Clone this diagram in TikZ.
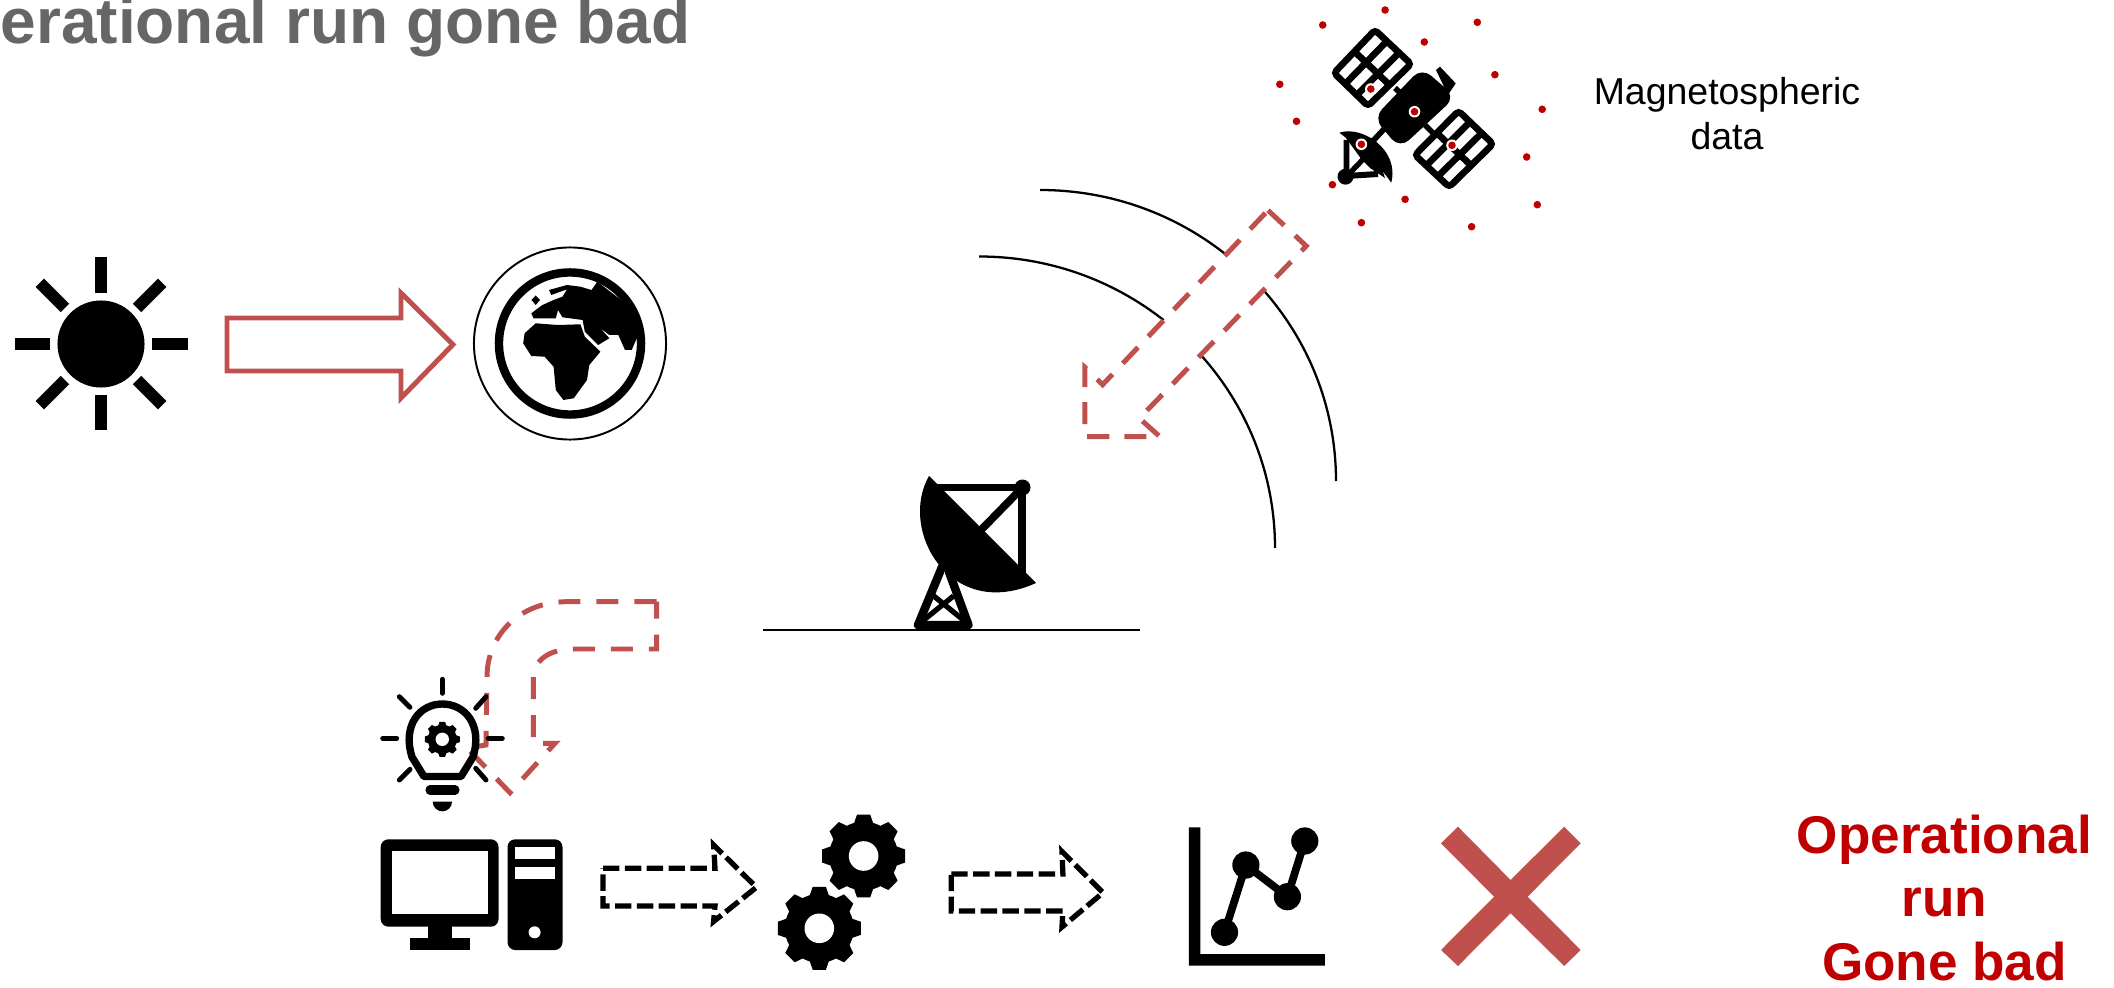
\documentclass[tikz,border=0pt]{standalone}
\usepackage{xcolor}
\usepackage{fontspec}
\setmainfont{Liberation Sans}
\usetikzlibrary{calc}
\definecolor{dullred}{HTML}{C0504D}
\definecolor{darkred}{HTML}{C00000}
\definecolor{titlegray}{HTML}{666666}
\tikzset{
    redlbl/.style={inner sep=0pt, align=center, text=darkred, font=\bfseries\fontsize{15.1}{18.1}\selectfont},
    blocksolid/.style={draw=dullred, line width=1.4pt},
    reddash/.style={draw=dullred, line width=1.42pt, dash pattern=on 6.26pt off 4.27pt},
    blackdash/.style={draw=black, line width=1.5pt, dash pattern=on 4.67pt off 1.54pt},
    wave/.style={draw=black, line width=0.65pt},
    ray/.style={draw=black, line width=3.4pt},
    smallray/.style={draw=black, line width=1.4pt, line cap=round},
    panel/.style={draw=black, line width=1.9pt},
    iconline/.style={draw=black, line width=2.2pt},
    ringnode/.style={circle, draw=black, inner sep=0pt, outer sep=0pt},
}
\newcommand{\gearicon}[4]{% x, y, radius, hole
    \fill[black] (#1,#2) circle[radius=0.82*#3];
    \foreach \a in {0,45,...,315}
        \fill[black] ({#1+#3*0.8*cos(\a-17)},{#2+#3*0.8*sin(\a-17)})
            -- ({#1+#3*cos(\a-9)},{#2+#3*sin(\a-9)}) -- ({#1+#3*cos(\a+9)},{#2+#3*sin(\a+9)})
            -- ({#1+#3*0.8*cos(\a+17)},{#2+#3*0.8*sin(\a+17)}) -- cycle;
    \fill[white] (#1,#2) circle[radius=#4];
}
\newcommand{\solarpanel}[4]{% corners of the panel
    \draw[panel, rounded corners=1pt] (#1) -- (#2) -- (#3) -- (#4) -- cycle;
    \draw[panel] ($(#1)!0.5!(#4)$) -- ($(#2)!0.5!(#3)$);
    \draw[panel] ($(#1)!0.33!(#2)$) -- ($(#4)!0.33!(#3)$);
    \draw[panel] ($(#1)!0.67!(#2)$) -- ($(#4)!0.67!(#3)$);
}
\begin{document}
\begin{tikzpicture}[x=0.01cm, y=-0.01cm]
    \useasboundingbox (0,0) rectangle (2114,988);
    \clip (0,0) rectangle (2114,988);

    % title, cut by the left edge
    \node[anchor=base west, inner sep=0pt, text=titlegray, font=\bfseries\fontsize{18.2}{20}\selectfont] (title) at (0,44) {erational run gone bad};

    % sun
    \node[circle, fill=black, minimum size=0.87cm, inner sep=0pt] (sun) at (101,344) {};
    \foreach \a in {0,45,...,315}
        \draw[ray] ({101+51*cos(\a)},{344+51*sin(\a)}) -- ({101+86.5*cos(\a)},{344+86.5*sin(\a)});

    % solar wind
    \draw[blocksolid] (227,318) -- (401,318) -- (401,293) -- (453,344.5) -- (401,398) -- (401,371) -- (227,371) -- cycle;

    % earth
    \node[ringnode, line width=0.55pt, minimum size=1.92cm] (earth) at (570,343.5) {};
    \node[ringnode, line width=2.4pt, minimum size=1.42cm] (globe) at (570,343.5) {};
    \fill[black] (524.6,333.3) -- (535.7,323.3) -- (558,325) -- (580.4,324.3) -- (584.8,336.7) -- (600.4,351.7) -- (589.3,365) -- (587,380) -- (573.7,398.3) -- (563.4,400) -- (555.8,390) -- (553.6,366.7) -- (544.6,356.7) -- (531.3,356) -- (523.2,343.3) -- cycle;
    \fill[black] (549,290) -- (567,285) -- (580.4,286.7) -- (591.5,290) -- (597.3,281.7) -- (625,303) -- (640.6,330) -- (636,340) -- (631.7,350) -- (625,350) -- (618.3,335) -- (609.4,335) -- (600.4,328.3) -- (609.4,338.3) -- (598.2,345) -- (584.8,331.7) -- (582.6,320) -- (562.5,317.3) -- (558,310) -- (555.8,318.3) -- (533.5,318.3) -- (531.3,313.3) -- (542.4,305) -- (553.6,300) -- (562.5,296.7) -- (567,289.3) -- (551.3,295) -- cycle;
    \fill[black] (535.7,295.5) -- (540,300) -- (535.7,305) -- (531.5,300) -- cycle;

    % radio waves, the arrow below hides a part of them
    \draw[wave] (1040,190) .. controls (1203.5,190) and (1336,320.3) .. (1336,481);
    \draw[wave] (979,256.5) .. controls (1142.5,256.5) and (1275,387) .. (1275,548);
    \draw[reddash, fill=white] (1268,210.3) -- (1306.2,246) -- (1139.4,418.3) -- (1159.9,436.7) -- (1084.8,436.7) -- (1084.8,367.3) -- (1102.6,384.7) -- cycle;

    % ground station
    \draw[black, line width=0.55pt] (762.5,630) coordinate (gndl) -- (1140,630) coordinate (gndr);
    \fill[black] (929,476) .. controls (898,530) and (950,622) .. (1036,583) -- cycle;
    \draw[iconline] (934,487.5) -- (1022,487.5) -- (1022,573);
    \draw[iconline] (1022,488) -- (981,530);
    \fill[black] (1022.5,487.5) circle[radius=8];
    \draw[iconline, line width=2.4pt, line cap=round] (918,625) -- (942,567) (968.5,625) -- (949,572) (918,625) -- (968.5,625);
    \draw[black, line width=1.5pt] (920,623) -- (953.5,596) (967,623) -- (933.8,596);

    % satellite
    \solarpanel{1375,30}{1411,64}{1368,106}{1334,73}
    \solarpanel{1458.6,111}{1493,144}{1449.2,187}{1415,155}
    \draw[line width=1.6pt] (1395,88) -- (1408,100) (1425,125) -- (1436,136) (1385,128) -- (1372,142);
    \fill[black, draw=black, line width=1pt, rounded corners=3pt] (1421.8,70) -- (1453,97) -- (1400,146) -- (1376,118) -- cycle;
    \fill[black] (1436,70) -- (1440,66.7) -- (1455.7,83.3) -- (1448,95) -- cycle;
    \fill[black] (1339.4,132.7) .. controls (1362,125) and (1400,150) .. (1391.2,182.7) .. controls (1380,165) and (1355,145) .. (1339.4,132.7) -- cycle;
    \draw[line width=1.7pt] (1346.5,140) -- (1346.5,176) -- (1378,174);
    \draw[line width=1.5pt] (1347,176) -- (1372,150);
    \fill[black] (1345.5,176.7) circle[radius=8];
    \fill[black] (1346,138) -- (1372,138) -- (1385,178) -- (1370,168) -- (1362,160) -- cycle;
    % particles
    \foreach \dx/\dy in {1370.8/89, 1414.5/111.7, 1361.4/144.3, 1452/145.3}
        \fill[white] (\dx,\dy) circle[radius=5.8];
    \foreach \dx/\dy in {1385.1/10, 1322.7/25, 1477.3/22.3, 1424.3/42, 1279.8/84.3, 1494.9/74.7, 1370.8/89, 1414.5/111.7, 1542.2/109.3, 1296.5/121.3, 1361.4/144.3, 1452/145.3, 1526.7/157, 1332.4/184.7, 1405.1/199.3, 1537.3/204.7, 1361.4/222.7, 1471.6/226.7}
        \fill[darkred] (\dx,\dy) circle[radius=3.8];
    \node[inner sep=0pt, align=center, font=\fontsize{10.65}{12.8}\selectfont] (magdata) at (1727,114) {Magnetospheric\\data};

    % idea
    \draw[reddash, dash pattern=on 6.26pt off 4.55pt] (656.5,601.7) -- (566.7,601.7) .. controls (520,601.7) and (487,635) .. (487,677) -- (486,745) -- (467,748) -- (510,792.7) -- (555,743.3) -- (533.3,743.3) -- (533.3,678) .. controls (533.3,660) and (550,649) .. (573.3,649) -- (656.5,649) -- cycle;
    \draw[black, line width=2.1pt, line join=round] (424,776.5) -- (412,757) .. controls (402,725) and (420,704) .. (442.3,704) .. controls (465,704) and (483,725) .. (473,757) -- (461,776.5) -- cycle;
    \gearicon{442.3}{739.3}{17.7}{6.7}
    \draw[black, line width=2.6pt, line cap=round] (430,790) -- (455,790);
    \fill[black] (432.7,801.7) -- (452,801.7) arc[start angle=0, end angle=180, radius=9.65];
    \foreach \xa/\ya/\xb/\yb in {442.3/679.3/442.3/693.3, 382.7/738.3/396.7/738.3, 488.3/738.3/502.3/738.3, 399.3/696.7/410/707.3, 486/696.7/475.7/708.3, 399.3/780/410/769.3, 486/780/475.7/768.3}
        \draw[smallray] (\xa,\ya) -- (\xb,\yb);

    % computer
    \fill[black, rounded corners=2.2pt] (380.7,839.3) rectangle (498.6,926.7);
    \fill[white] (392,851) rectangle (487.5,914.3);
    \fill[black] (427.9,926) rectangle (451.8,938.3);
    \fill[black] (410,938.3) rectangle (469.6,950);
    \fill[black, rounded corners=2.2pt] (507.5,839.3) rectangle (562.5,950);
    \fill[white] (514.6,847.3) rectangle (554.6,859);
    \fill[white] (514.6,866.7) rectangle (554.6,879);
    \fill[white] (534.6,932.3) circle[radius=6];

    % processing chain
    \draw[blackdash] (603,868.3) -- (715,868.3) -- (713.6,845) -- (756.4,887.3) -- (713.6,921.5) -- (715,906) -- (603,906) -- cycle;
    \gearicon{863.6}{856}{42}{14.8}
    \gearicon{819.3}{928.3}{42}{14.8}
    \draw[blackdash] (951.3,874) -- (1062.9,874) -- (1062,851.5) -- (1103,892.7) -- (1062,927) -- (1062.9,911) -- (951.3,911) -- cycle;

    % chart
    \fill[black] (1188.8,827.3) -- (1200.4,827.3) -- (1200.4,954) -- (1324.9,954) -- (1324.9,965.7) -- (1188.8,965.7) -- cycle;
    \draw[iconline] (1224.5,932.3) -- (1245.9,865) -- (1287.4,896.7) -- (1304.8,841);
    \foreach \dx/\dy in {1224.5/932.3, 1245.9/865, 1287.4/896.7, 1304.8/841}
        \fill[black] (\dx,\dy) circle[radius=13.6];

    % failure mark
    \fill[dullred] (1458,826.7) -- (1510.6,880) -- (1564.2,826.7) -- (1580.7,843.3) -- (1527.6,896.7) -- (1580.7,950) -- (1564.2,966) -- (1510.6,913.3) -- (1458,966) -- (1441,950) -- (1494.1,896.7) -- (1441,843.3) -- cycle;

    \node[redlbl] (failed) at (1944.5,898) {Operational\\run\\Gone bad};
\end{tikzpicture}
\end{document}
